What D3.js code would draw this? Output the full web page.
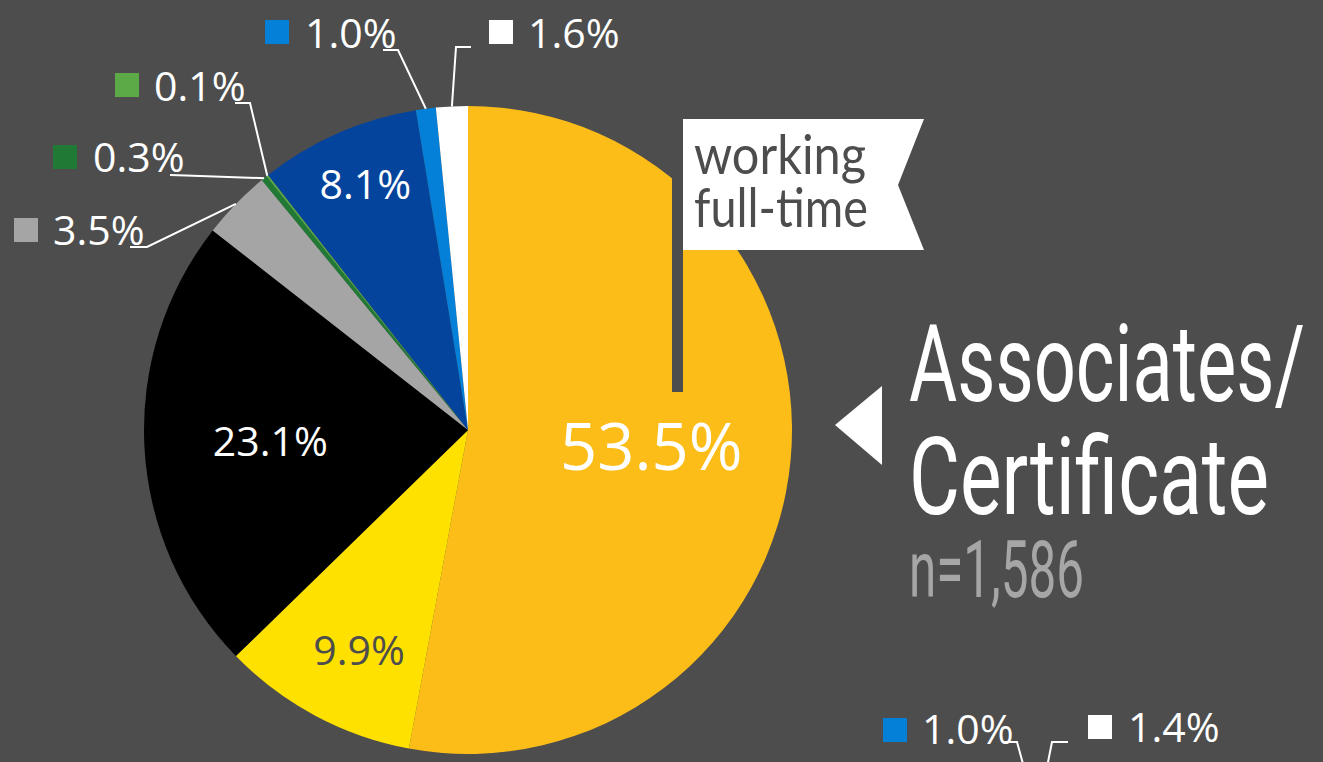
<!DOCTYPE html>
<html>
<head>
    <meta charset="utf-8" />
    <script src="https://d3js.org/d3.v7.min.js"></script>
    <style>
        body { margin: 0; background: #4d4d4d; overflow: hidden; }
        svg { display: block; }
    </style>
</head>
<body>
<svg id="pieChart" width="1323" height="762"></svg>

<script>
    // slice data, clockwise from 12 o'clock
    const sliceIds = ["s1", "s2", "s3", "s4", "s5", "s6", "s7", "s8", "s9"];
    const sliceValues = [53.5, 9.9, 23.1, 3.5, 0.3, 0.1, 8.1, 1.0, 1.6];
    const sliceColors = ["#fdbd19", "#ffe100", "#000000", "#a5a5a5", "#207a36", "#5caa47", "#05449c", "#0580d8", "#ffffff"];

    // next pie (below, mostly out of view): only its two top slices show labels
    const nextIds = ["b8", "b9"];
    const nextValues = [1.0, 1.4];
    const nextColors = ["#0580d8", "#ffffff"];

    const titleLines = ["Associates/", "Certificate"];
    const countLabel = "n=1,586";
    const flagLines = ["working", "full-time"];

    const bg = "#4d4d4d";
    const fmt = v => d3.format(".1f")(v) + "%";

    const svg = d3.select("#pieChart");
    svg.append("rect").attr("width", 1323).attr("height", 762).attr("fill", bg);

    const R = 324;
    const cx = 468, cy = 430;

    const slices = sliceIds.map((id, i) => ({ id: id, value: sliceValues[i], color: sliceColors[i] }));
    const pie = d3.pie().sort(null).value(d => d.value);
    const arcs = pie(slices);

    const arc = d3.arc().innerRadius(0).outerRadius(R);
    const edgeArc = d3.arc().innerRadius(R).outerRadius(R);

    const g = svg.append("g").attr("transform", `translate(${cx},${cy})`);

    g.selectAll("path.slice")
        .data(arcs)
        .enter().append("path")
        .attr("class", "slice")
        .attr("d", arc)
        .attr("fill", d => d.data.color);

    // labels inside the slices (radius for each chosen like Excel's best fit)
    const inside = [
        { id: "s1", r: 184, dx: 0, size: 65, color: "#ffffff" },
        { id: "s2", r: 250, dx: 9, size: 41, color: "#4d4d4d" },
        { id: "s3", r: 198, dx: 0, size: 41, color: "#ffffff" },
        { id: "s7", r: 268, dx: 5, size: 41, color: "#ffffff" }
    ];
    inside.forEach(function(lab) {
        const d = arcs.find(a => a.data.id === lab.id);
        const p = d3.arc().innerRadius(lab.r).outerRadius(lab.r).centroid(d);
        g.append("text")
            .attr("x", p[0] + lab.dx)
            .attr("y", p[1])
            .attr("dy", "0.36em")
            .attr("text-anchor", "middle")
            .style("font-family", "'Open Sans'")
            .style("font-size", lab.size + "px")
            .attr("fill", lab.color)
            .text(fmt(d.data.value));
    });

    // labels outside with a colour key and a leader line to the slice edge
    const outside = [
        { id: "s4", sq: [14, 218], tx: 53, ty: 245, lead: [[130, 247], [147, 247]] },
        { id: "s5", sq: [53, 145], tx: 93, ty: 172, lead: [[170, 175], [186, 175.5]] },
        { id: "s6", sq: [115, 73], tx: 154, ty: 101, lead: [[235, 103], [250, 103]] },
        { id: "s8", sq: [265, 20], tx: 305, ty: 48, lead: [[383, 50], [398, 50]] },
        { id: "s9", sq: [489, 20], tx: 528, ty: 48, lead: [[471, 47], [456, 47]] }
    ];
    const leader = d3.line();

    function drawOutside(list, arcList, ox, oy, edge) {
        list.forEach(function(lab) {
            const d = arcList.find(a => a.data.id === lab.id);
            const end = edge.centroid(d);
            svg.append("path")
                .attr("d", leader([lab.lead[0], lab.lead[1], [end[0] + ox, end[1] + oy]]))
                .attr("fill", "none")
                .attr("stroke", "#ffffff")
                .attr("stroke-width", 2);
            svg.append("rect")
                .attr("x", lab.sq[0])
                .attr("y", lab.sq[1])
                .attr("width", 24)
                .attr("height", 24)
                .attr("fill", d.data.color);
            svg.append("text")
                .attr("x", lab.tx)
                .attr("y", lab.ty)
                .style("font-family", "'Open Sans'")
                .style("font-size", "41px")
                .attr("fill", "#ffffff")
                .text(fmt(d.data.value));
        });
    }
    drawOutside(outside, arcs, cx, cy, edgeArc);

    // second pie, just off the bottom edge
    const cx2 = 1062, cy2 = 1087;
    const nextSlices = nextIds.map((id, i) => ({ id: id, value: nextValues[i], color: nextColors[i] }));
    const pie2 = d3.pie().sort(null).value(d => d.value)
        .startAngle(2 * Math.PI * (1 - d3.sum(nextValues) / 100))
        .endAngle(2 * Math.PI);
    const arcs2 = pie2(nextSlices);
    svg.append("g")
        .attr("transform", `translate(${cx2},${cy2})`)
        .selectAll("path")
        .data(arcs2)
        .enter().append("path")
        .attr("d", arc)
        .attr("fill", d => d.data.color);
    const outside2 = [
        { id: "b8", sq: [883, 718], tx: 922, ty: 744, lead: [[1002, 742], [1017, 742]] },
        { id: "b9", sq: [1088, 715], tx: 1128, ty: 742, lead: [[1068, 742], [1052, 742]] }
    ];
    drawOutside(outside2, arcs2, cx2, cy2, edgeArc);

    // flag with pole
    svg.append("rect")
        .attr("x", 672).attr("y", 119)
        .attr("width", 11).attr("height", 273)
        .attr("fill", bg);
    svg.append("polygon")
        .attr("points", "683,119 924,119 898,185 924,250 683,250")
        .attr("fill", "#ffffff");
    svg.append("text")
        .attr("x", 694).attr("y", 174)
        .attr("textLength", 172).attr("lengthAdjust", "spacingAndGlyphs")
        .style("font-family", "Lato")
        .style("font-size", "55px")
        .attr("fill", "#4d4d4d")
        .text(flagLines[0]);
    svg.append("text")
        .attr("x", 694).attr("y", 227)
        .attr("textLength", 174).attr("lengthAdjust", "spacingAndGlyphs")
        .style("font-family", "Lato")
        .style("font-size", "55px")
        .attr("fill", "#4d4d4d")
        .text(flagLines[1]);

    // pointer and title
    svg.append("polygon")
        .attr("points", "835,425 882,386 882,465")
        .attr("fill", "#ffffff");

    svg.append("text")
        .attr("x", 909).attr("y", 401)
        .attr("textLength", 396).attr("lengthAdjust", "spacingAndGlyphs")
        .style("font-family", "Roboto")
        .style("font-size", "107px")
        .attr("fill", "#ffffff")
        .text(titleLines[0]);
    svg.append("text")
        .attr("x", 909).attr("y", 514)
        .attr("textLength", 360).attr("lengthAdjust", "spacingAndGlyphs")
        .style("font-family", "Roboto")
        .style("font-size", "107px")
        .attr("fill", "#ffffff")
        .text(titleLines[1]);
    svg.append("text")
        .attr("x", 909).attr("y", 597)
        .attr("textLength", 175).attr("lengthAdjust", "spacingAndGlyphs")
        .style("font-family", "Roboto")
        .style("font-size", "79px")
        .attr("fill", "#a6a6a6")
        .text(countLabel);
</script>
</body>
</html>
